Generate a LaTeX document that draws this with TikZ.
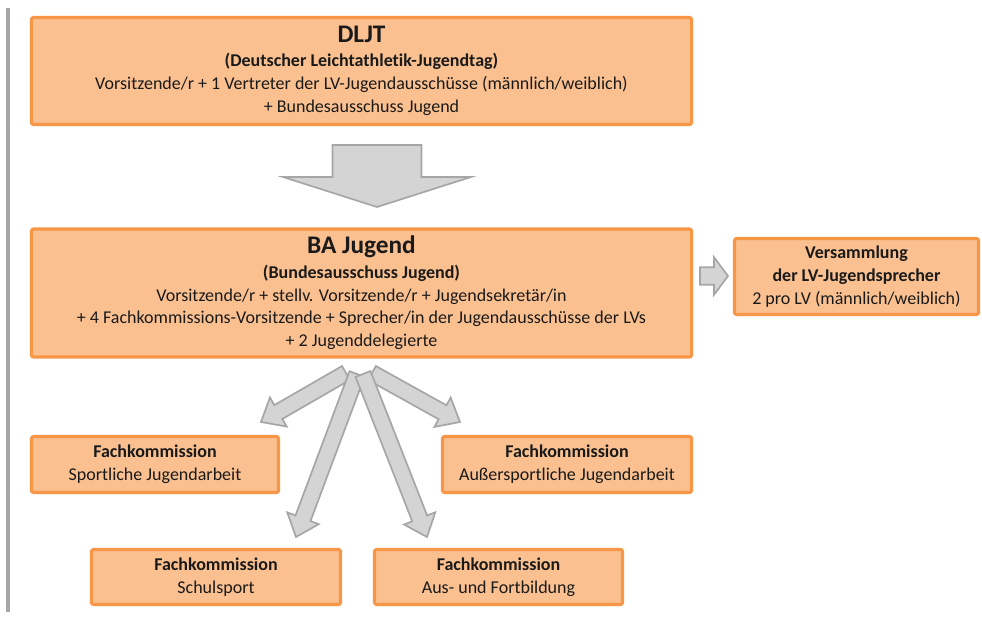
\documentclass[tikz,border=0pt]{standalone}
\usepackage{fontspec}
\setmainfont{Carlito}[Ligatures=NoCommon]
\usetikzlibrary{calc}

\definecolor{boxfill}{HTML}{FAC090}
\definecolor{boxline}{HTML}{F79646}
\definecolor{arrowfill}{HTML}{D4D4D4}
\definecolor{arrowline}{HTML}{A6A6A6}
\definecolor{textdark}{HTML}{1A1A1A}

%% 块状箭头: #1 尾, #2 尖, #3 杆半宽, #4 头半宽, #5 头长
\newcommand{\blockarrow}[5]{%
  \coordinate (ba-b) at ($(#2)!#5!(#1)$);
  \filldraw[blockarr] ($(#1)!#3!90:(#2)$) -- ($(ba-b)!#3!90:(#2)$)
    -- ($(ba-b)!#4!90:(#2)$) -- (#2) -- ($(ba-b)!#4!-90:(#2)$)
    -- ($(ba-b)!#3!-90:(#2)$) -- ($(#1)!#3!-90:(#2)$) -- cycle;
}

\begin{document}
\begin{tikzpicture}[x=0.025cm, y=-0.025cm,
  orgbox/.style={draw=boxline, fill=boxfill, line width=2.2pt, rounded corners=1.5pt,
    inner sep=0pt, align=center, text=textdark,
    font=\fontsize{12.8}{16.3}\selectfont},
  blockarr/.style={fill=arrowfill, draw=arrowline, line width=1.2pt, line join=miter}]

\useasboundingbox (0,0) rectangle (982,619);

%% 左边的灰线
\draw[arrowline, line width=2.2pt] (8,8) -- (8,612);

%% 方框
\node[orgbox, minimum width=16.5cm, minimum height=2.675cm] (dljt) at (361.5,71)
  {{\fontsize{18}{20}\selectfont\bfseries DLJT}\\[1pt]
   \textbf{(Deutscher Leichtathletik-Jugendtag)}\\
   Vorsitzende/r + 1 Vertreter der LV-Jugendausschüsse (männlich/weiblich)\\
   + Bundesausschuss Jugend};

\node[orgbox, minimum width=16.5cm, minimum height=3.2cm] (ba) at (361.5,293)
  {{\fontsize{18}{20}\selectfont\bfseries BA Jugend}\\[1pt]
   \textbf{(Bundesausschuss Jugend)}\\
   Vorsitzende/r + stellv. Vorsitzende/r + Jugendsekretär/in\\
   + 4 Fachkommissions-Vorsitzende + Sprecher/in der Jugendausschüsse der LVs\\
   + 2 Jugenddelegierte};

\node[orgbox, minimum width=6.1cm, minimum height=1.9cm] (vers) at (856.5,276.5)
  {\textbf{Versammlung}\\ \textbf{der LV-Jugendsprecher}\\ 2 pro LV (männlich/weiblich)};

\node[orgbox, minimum width=6.175cm, minimum height=1.4cm] (sport) at (155,464.5)
  {\textbf{Fachkommission}\\ Sportliche Jugendarbeit};
\node[orgbox, minimum width=6.225cm, minimum height=1.4cm] (ausser) at (567,464.5)
  {\textbf{Fachkommission}\\ Außersportliche Jugendarbeit};
\node[orgbox, minimum width=6.225cm, minimum height=1.375cm] (schul) at (216,577)
  {\textbf{Fachkommission}\\ Schulsport};
\node[orgbox, minimum width=6.2cm, minimum height=1.375cm] (ausfort) at (498.5,577)
  {\textbf{Fachkommission}\\ Aus- und Fortbildung};

%% 箭头的端点(x/y/<name>)
\foreach \x/\y/\n in {377/145/bigtail, 377/207/bigtip, 700/276/vtail, 728/276/vtip,
  346/373/atail, 261/422/atip, 372/373/btail, 460/422/btip,
  357/374/ctail, 296/537/ctip, 363/374/dtail, 427/537/dtip}
  \coordinate (\n) at (\x,\y);

%% 箭头
\blockarrow{bigtail}{bigtip}{1.11cm}{2.35cm}{0.75cm}
\blockarrow{vtail}{vtip}{0.22cm}{0.47cm}{0.35cm}
\blockarrow{atail}{atip}{0.2cm}{0.42cm}{0.5cm}
\blockarrow{btail}{btip}{0.2cm}{0.42cm}{0.5cm}
\blockarrow{ctail}{ctip}{0.2cm}{0.42cm}{0.5cm}
\blockarrow{dtail}{dtip}{0.2cm}{0.42cm}{0.5cm}

\end{tikzpicture}
\end{document}
